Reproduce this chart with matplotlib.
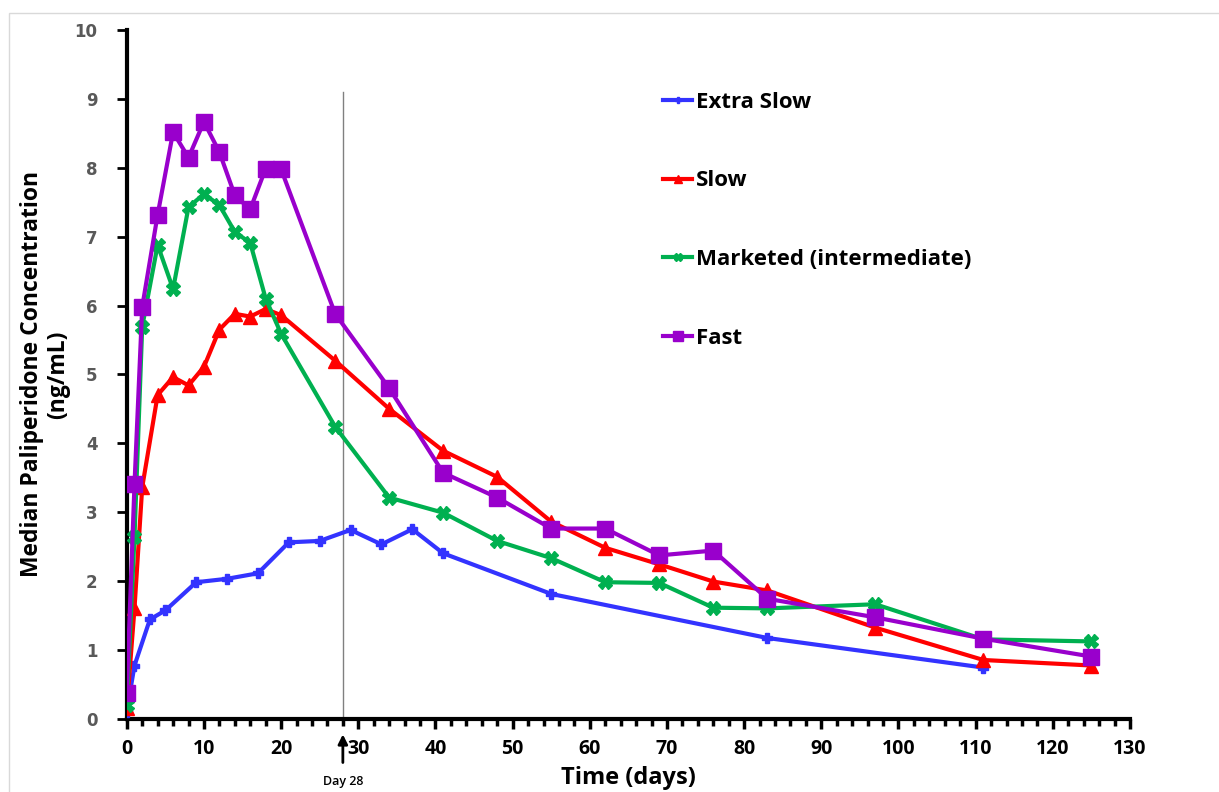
import numpy as np
import matplotlib
matplotlib.use("Agg")
import matplotlib.pyplot as plt
from matplotlib.ticker import MultipleLocator
from matplotlib.patches import Rectangle

# Données (jours, ng/mL)
x_extra = [0, 1, 3, 5, 9, 13, 17, 21, 25, 29, 33, 37, 41, 55, 83, 111]
y_extra = [0.1, 0.77, 1.44, 1.57, 1.98, 2.03, 2.11, 2.56, 2.58, 2.74, 2.53, 2.75, 2.40, 1.81, 1.17, 0.74]

x_std = [0, 1, 2, 4, 6, 8, 10, 12, 14, 16, 18, 20, 27, 34, 41, 48, 55, 62, 69, 76, 83, 97, 111, 125]
y_slow = [0.15, 1.6, 3.36, 4.70, 4.96, 4.84, 5.11, 5.65, 5.88, 5.84, 5.95, 5.86, 5.20,
          4.50, 3.89, 3.51, 2.86, 2.48, 2.24, 1.99, 1.86, 1.32, 0.85, 0.77]
y_market = [0.2, 2.64, 5.69, 6.88, 6.24, 7.43, 7.62, 7.46, 7.07, 6.91, 6.10, 5.59, 4.24,
            3.21, 2.99, 2.58, 2.33, 1.98, 1.97, 1.61, 1.60, 1.66, 1.15, 1.12]
y_fast = [0.37, 3.40, 5.98, 7.32, 8.52, 8.15, 8.67, 8.23, 7.60, 7.40, 7.99, 7.98, 5.88,
          4.80, 3.57, 3.21, 2.76, 2.76, 2.37, 2.44, 1.74, 1.47, 1.16, 0.90]

police = "Open Sans"

fig = plt.figure(figsize=(12.19, 7.92), dpi=100)
fig.patches.append(Rectangle((0.007, -0.01), 1.0, 0.993, transform=fig.transFigure,
                             fill=False, edgecolor="#d9d9d9", lw=1))
ax = fig.add_axes([0.104, 0.0928, 0.823, 0.869])

ax.plot(x_extra, y_extra, color="#3333ff", lw=3, marker="P", markersize=7, label="Extra Slow", zorder=3)
ax.plot(x_std, y_slow, color="#ff0000", lw=3, marker="^", markersize=10, label="Slow", zorder=4)
ax.plot(x_std, y_market, color="#00b050", lw=3, marker="X", markersize=10, label="Marketed (intermediate)", zorder=5)
ax.plot(x_std, y_fast, color="#9900cc", lw=3, marker="s", markersize=11, label="Fast", zorder=6)

# Ligne du jour 28
ax.plot([28, 28], [0, 9.1], color="#808080", lw=1, zorder=1)
ax.annotate("", xy=(28, -0.19), xytext=(28, -0.68), annotation_clip=False,
            arrowprops=dict(arrowstyle="-|>", color="black", lw=2, mutation_scale=14))
ax.text(28, -0.91, "Day 28", ha="center", va="center", fontsize=9, family=police,
        fontweight="semibold", clip_on=False)

ax.set_xlim(0, 130)
ax.set_ylim(0, 10)
ax.xaxis.set_major_locator(MultipleLocator(10))
ax.xaxis.set_minor_locator(MultipleLocator(2))
ax.yaxis.set_major_locator(MultipleLocator(1))

for s in ["top", "right"]:
    ax.spines[s].set_visible(False)
for s in ["left", "bottom"]:
    ax.spines[s].set_linewidth(3)

ax.tick_params(axis="x", which="major", length=7, width=2.5, pad=8)
ax.tick_params(axis="x", which="minor", length=5, width=2.5)
ax.tick_params(axis="y", which="major", length=7, width=2, pad=14)

for lab in ax.get_xticklabels():
    lab.set_fontfamily(police)
    lab.set_fontweight("bold")
    lab.set_fontsize(14)
for lab in ax.get_yticklabels():
    lab.set_fontfamily("DejaVu Sans")
    lab.set_fontweight("bold")
    lab.set_fontsize(12)
    lab.set_color("#595959")

ax.set_xlabel("Time (days)", fontsize=17, fontweight="bold", family=police, labelpad=5)
ax.set_ylabel("Median Paliperidone Concentration\n(ng/mL)", fontsize=16.5, fontweight="bold",
              family=police, labelpad=3, linespacing=1.15)

leg = ax.legend(loc="upper left", bbox_to_anchor=(0.515, 0.94), frameon=False,
                prop=dict(family=police, weight="bold", size=16),
                handlelength=1.3, handletextpad=0.15, labelspacing=2.6, markerscale=0.6)

plt.savefig("out.png", dpi=100)
